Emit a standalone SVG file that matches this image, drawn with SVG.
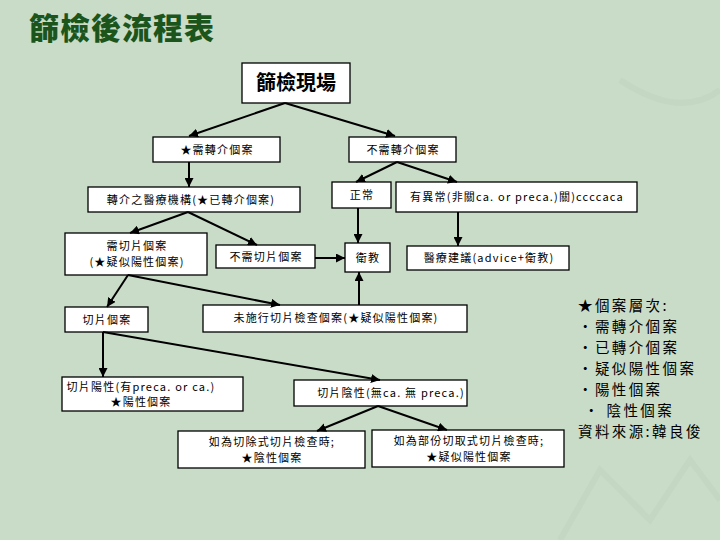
<svg xmlns="http://www.w3.org/2000/svg" width="720" height="540" viewBox="0 0 720 540">
<defs>
<marker id="ah" viewBox="0 0 10 10" refX="10" refY="5" markerWidth="9" markerHeight="9" markerUnits="userSpaceOnUse" orient="auto">
<path d="M0,0 L10,5 L0,10 z" fill="#000"/>
</marker>
</defs>
<style>
.bx{fill:#fff;stroke:#000;stroke-width:1.3}
.t{font-family:"Noto Sans CJK TC","Noto Sans CJK SC",sans-serif;font-size:11px;fill:#000;text-anchor:middle;letter-spacing:1.2px}
.lg{font-family:"Noto Sans CJK TC","Noto Sans CJK SC",sans-serif;font-size:14.5px;fill:#000;letter-spacing:2.4px}
.c line{stroke:#000;stroke-width:2;marker-end:url(#ah)}
</style>
<rect width="720" height="540" fill="#c9dcc8"/>
<g opacity="0.35" fill="none" stroke="#b7ceb6" stroke-width="6">
<path d="M560,540 L600,470 L650,520 L690,460 L720,500"/>
<path d="M620,80 Q680,120 720,90"/>
</g>
<text x="29" y="39" font-family="Noto Sans CJK TC, sans-serif" font-size="30" font-weight="900" fill="#1c551c" letter-spacing="1">篩檢後流程表</text>

<g id="n-screen"><rect class="bx" x="242" y="63" width="108" height="40"/><text x="296" y="90" font-family="Noto Sans CJK TC, sans-serif" font-size="20" font-weight="700" text-anchor="middle" fill="#000">篩檢現場</text></g>
<g id="n-need-ref"><rect class="bx" x="153" y="137" width="127" height="25"/><text class="t" x="217" y="154">★需轉介個案</text></g>
<g id="n-no-ref"><rect class="bx" x="349" y="137" width="107" height="25"/><text class="t" x="403" y="154">不需轉介個案</text></g>
<g id="n-hospital"><rect class="bx" x="88" y="187" width="212" height="25"/><text class="t" x="191" y="204">轉介之醫療機構(★已轉介個案)</text></g>
<g id="n-normal"><rect class="bx" x="332" y="182" width="59" height="26"/><text class="t" x="362" y="199">正常</text></g>
<g id="n-abnormal"><rect class="bx" x="396" y="182" width="241" height="30"/><text class="t" x="517" y="201">有異常(非關ca. or preca.)關)ccccaca</text></g>
<g id="n-need-bx"><rect class="bx" x="65" y="233" width="142" height="42"/><text class="t" x="137" y="250">需切片個案</text><text class="t" x="137" y="266">(★疑似陽性個案)</text></g>
<g id="n-no-bx"><rect class="bx" x="216" y="245" width="99" height="23"/><text class="t" x="266" y="261">不需切片個案</text></g>
<g id="n-edu"><rect class="bx" x="345" y="243" width="45" height="29"/><text class="t" x="368" y="262">衛教</text></g>
<g id="n-advice"><rect class="bx" x="407" y="246" width="162" height="24"/><text class="t" x="489" y="262">醫療建議(advice+衛教)</text></g>
<g id="n-bx"><rect class="bx" x="65" y="307" width="83" height="25"/><text class="t" x="107" y="324">切片個案</text></g>
<g id="n-not-done"><rect class="bx" x="203" y="305" width="264" height="27"/><text class="t" x="336" y="322">未施行切片檢查個案(★疑似陽性個案)</text></g>
<g id="n-pos"><rect class="bx" x="62" y="377" width="181" height="34"/><text class="t" x="141" y="391">切片陽性(有preca. or ca.)</text><text class="t" x="141" y="406">★陽性個案</text></g>
<g id="n-neg"><rect class="bx" x="294" y="380" width="173" height="26"/><text class="t" x="391" y="397">切片陰性(無ca. 無 preca.)</text></g>
<g id="n-excision"><rect class="bx" x="178" y="431" width="187" height="37"/><text class="t" x="272" y="446">如為切除式切片檢查時;</text><text class="t" x="272" y="462">★陰性個案</text></g>
<g id="n-incision"><rect class="bx" x="372" y="430" width="192" height="37"/><text class="t" x="469" y="445">如為部份切取式切片檢查時;</text><text class="t" x="469" y="461">★疑似陽性個案</text></g>

<g id="connectors" class="c">
<line x1="285" y1="103" x2="189" y2="136"/>
<line x1="285" y1="103" x2="395" y2="136"/>
<line x1="189" y1="162" x2="189" y2="187"/>
<line x1="397" y1="162" x2="356" y2="182"/>
<line x1="397" y1="162" x2="457" y2="182"/>
<line x1="358" y1="208" x2="358" y2="243"/>
<line x1="458" y1="212" x2="458" y2="246"/>
<line x1="188" y1="212" x2="130" y2="233"/>
<line x1="188" y1="212" x2="257" y2="245"/>
<line x1="315" y1="258" x2="345" y2="258"/>
<line x1="128" y1="275" x2="107" y2="307"/>
<line x1="128" y1="275" x2="280" y2="305"/>
<line x1="359" y1="305" x2="359" y2="272"/>
<line x1="103" y1="332" x2="103" y2="377"/>
<line x1="103" y1="332" x2="380" y2="380"/>
<line x1="378" y1="406" x2="317" y2="431"/>
<line x1="378" y1="406" x2="447" y2="430"/>
</g>

<g id="legend">
<text class="lg" x="578" y="311">★個案層次:</text>
<text class="lg" x="578" y="332">‧需轉介個案</text>
<text class="lg" x="578" y="353">‧已轉介個案</text>
<text class="lg" x="578" y="374">‧疑似陽性個案</text>
<text class="lg" x="578" y="395">‧陽性個案</text>
<text class="lg" x="584" y="416">‧ 陰性個案</text>
<text class="lg" x="578" y="437">資料來源:韓良俊</text>
</g>
</svg>
